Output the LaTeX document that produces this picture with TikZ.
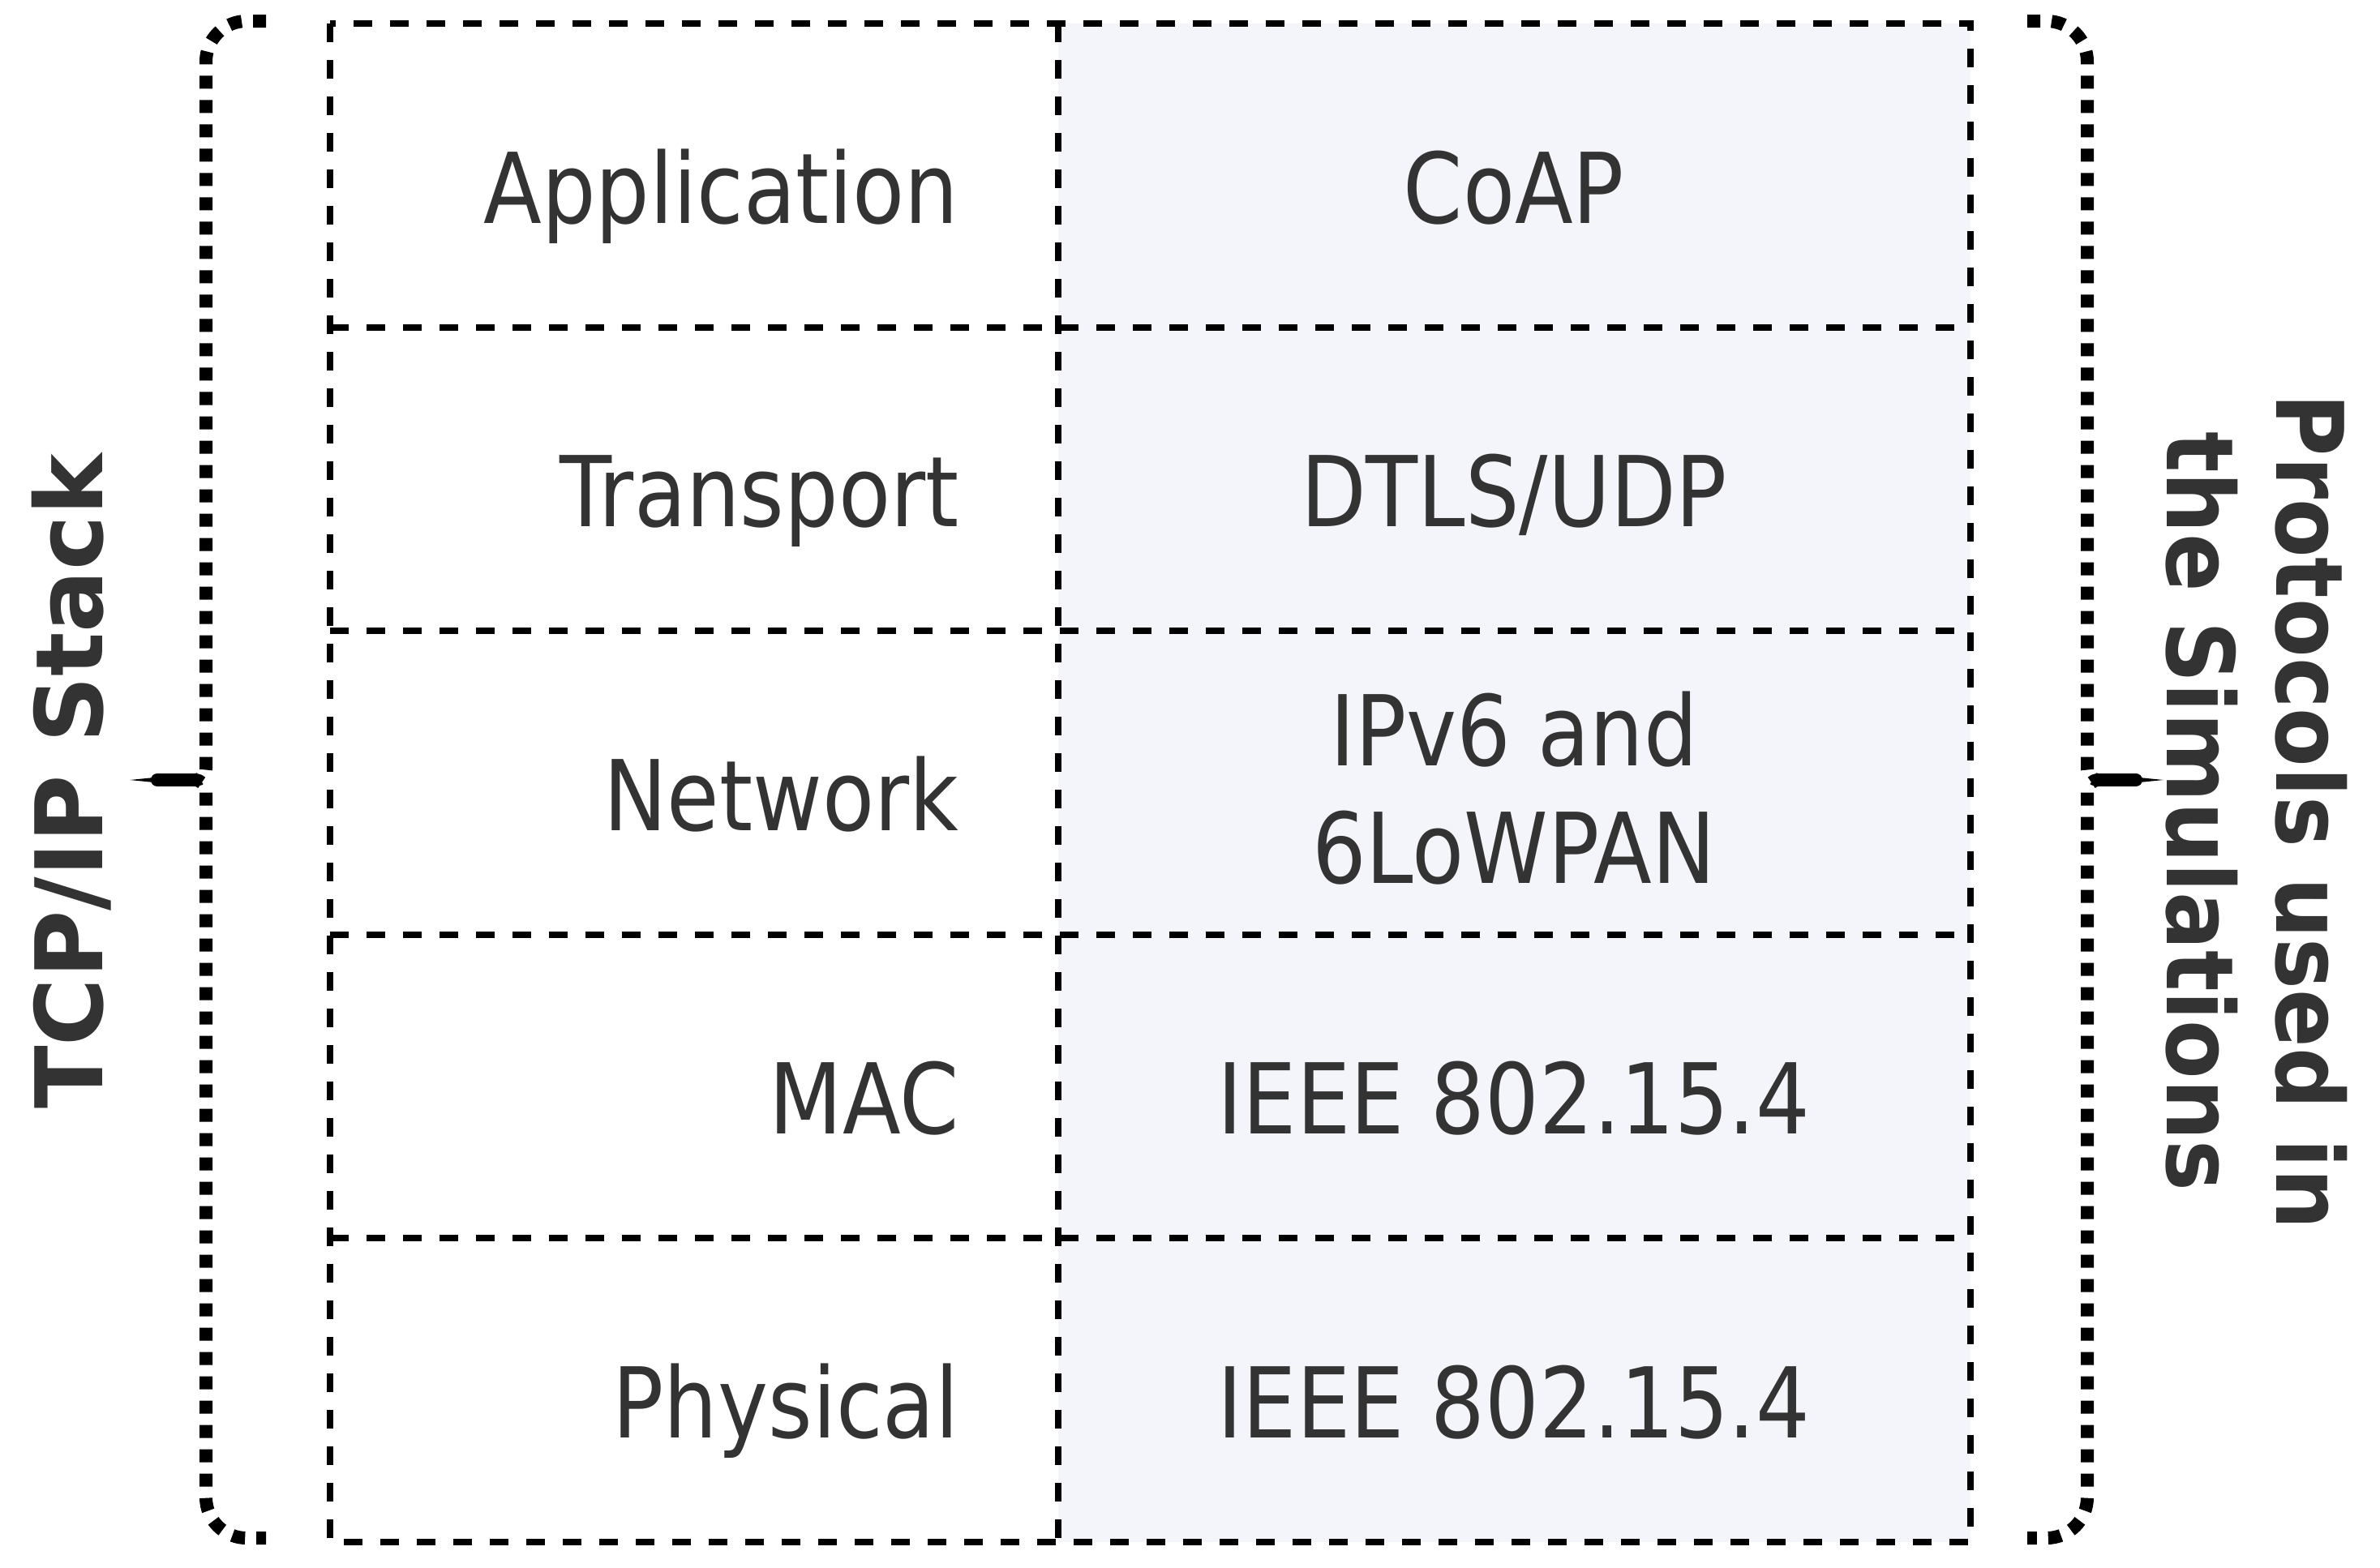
\documentclass[tikz,border=0pt]{standalone}
\usepackage{fontspec}
\setmainfont{DejaVu Sans}[FakeStretch=0.87]
\newfontfamily\sidefont{DejaVu Sans}[FakeStretch=0.92]
\newfontfamily\stackfont{DejaVu Sans}[FakeStretch=0.99]
\definecolor{labelgray}{HTML}{333333}
\definecolor{protofill}{HTML}{F4F5FA}

\begin{document}
\begin{tikzpicture}[
    layer/.style={text=labelgray, font=\fontsize{34.3}{41.5}\selectfont, inner sep=0pt},
    side/.style={text=labelgray, font=\sidefont\bfseries\fontsize{32.7}{38.4}\selectfont, inner sep=0pt, align=center},
    grid/.style={line width=0.08cm, dash pattern=on 0.23cm off 0.22cm},
    brace/.style={line width=0.16cm, dash pattern=on 0.16cm off 0.14cm}
]
    \useasboundingbox (0,0) rectangle (29.35,-19.33);

    \fill[protofill] (13.05,-0.29) rectangle (24.30,-19.02);
    \draw[grid] (4.07,-0.29) rectangle (24.30,-19.02);
    \draw[grid] (13.05,-0.29) -- (13.05,-19.02);
    \foreach \y in {-4.04,-7.78,-11.53,-15.27}
        \draw[grid] (4.07,\y) -- (24.30,\y);

    \node[layer, anchor=base east] (application) at (11.83,-2.75) {Application};
    \node[layer, anchor=base east] (transport) at (11.83,-6.49) {Transport};
    \node[layer, anchor=base east] (network) at (11.83,-10.24) {Network};
    \node[layer, anchor=base east] (mac) at (11.83,-13.98) {MAC};
    \node[layer, anchor=base east] (physical) at (11.83,-17.73) {Physical};

    \node[layer, anchor=base] (coap) at (18.67,-2.75) {CoAP};
    \node[layer, anchor=base] (dtls) at (18.67,-6.49) {DTLS/UDP};
    \node[layer, align=center] (ipv6) at (18.67,-9.72) {IPv6 and\\6LoWPAN};
    \node[layer, anchor=base] (macieee) at (18.67,-13.98) {IEEE 802.15.4};
    \node[layer, anchor=base] (phyieee) at (18.67,-17.73) {IEEE 802.15.4};

    \draw[brace] (3.28,-0.26) -- (3.04,-0.26) arc[start angle=90, end angle=180, radius=0.5]
        -- (2.54,-9.48) arc[start angle=0, end angle=-90, radius=0.14]
        arc[start angle=90, end angle=0, radius=0.14]
        -- (2.54,-18.47) arc[start angle=180, end angle=270, radius=0.5] -- (3.28,-18.97);
    \draw[line width=0.16cm, line cap=round] (1.94,-9.62) -- (2.40,-9.62);

    \draw[brace] (25.00,-0.26) -- (25.24,-0.26) arc[start angle=90, end angle=0, radius=0.5]
        -- (25.74,-9.48) arc[start angle=180, end angle=270, radius=0.14]
        arc[start angle=90, end angle=180, radius=0.14]
        -- (25.74,-18.47) arc[start angle=0, end angle=-90, radius=0.5] -- (25.00,-18.97);
    \draw[line width=0.16cm, line cap=round] (25.88,-9.62) -- (26.34,-9.62);

    \node[side, font=\stackfont\bfseries\fontsize{32.7}{38.4}\selectfont, rotate=90, anchor=base] (tcpip) at (1.26,-9.64) {TCP/IP Stack};
    \node[side, rotate=-90] (protocols) at (27.83,-10.01) {Protocols used in\\the Simulations};
\end{tikzpicture}
\end{document}
